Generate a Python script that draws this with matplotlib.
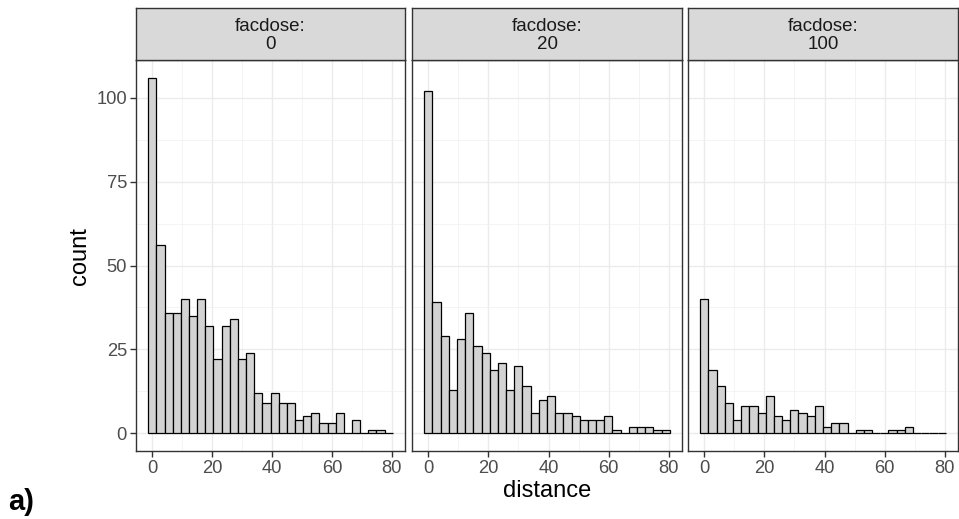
import numpy as np
import matplotlib.pyplot as plt

plt.rcParams['font.family'] = ['Liberation Sans', 'DejaVu Sans']

# histogram counts per facet (30 bins, shared across panels)
doses = ['0', '20', '100']
counts_0 = [106, 56, 36, 36, 40, 35, 40, 32, 22, 32, 34, 22, 24, 12, 9,
            12, 9, 9, 4, 5, 6, 3, 3, 6, 0, 4, 0, 1, 1, 0]
counts_20 = [102, 39, 29, 13, 28, 36, 26, 24, 19, 21, 13, 20, 14, 6, 10,
             11, 6, 6, 5, 4, 4, 4, 5, 1, 0, 2, 2, 2, 1, 1]
counts_100 = [40, 19, 14, 9, 4, 8, 8, 6, 11, 5, 4, 7, 6, 5, 8,
              2, 3, 3, 0, 1, 1, 0, 0, 1, 1, 2, 0, 0, 0, 0]
all_counts = [counts_0, counts_20, counts_100]

dist_min, dist_max = 0.0, 79.0
nbins = 30

binw = (dist_max - dist_min) / (nbins - 1)
edges = dist_min - binw / 2 + binw * np.arange(nbins)

W, H = 959, 519
fig = plt.figure(figsize=(W / 100, H / 100), dpi=100)

panel_x = [(136, 405), (412, 682), (688, 958)]
p_top, p_bot, s_top = 60, 451, 8
dark = '#333333'
grey_txt = '#4D4D4D'

for i, (x0, x1) in enumerate(panel_x):
    ax = fig.add_axes([x0 / W, 1 - p_bot / H, (x1 - x0) / W, (p_bot - p_top) / H])
    ax.set_axisbelow(True)
    ax.bar(edges, all_counts[i], width=binw, align='edge',
           color='#D3D3D3', edgecolor='black', linewidth=0.9)
    lo = edges[0]
    hi = edges[-1] + binw
    pad = 0.05 * (hi - lo)
    ax.set_xlim(lo - pad, hi + pad)
    ax.set_ylim(-0.05 * 106, 106 * 1.05)
    ax.set_xticks([0, 20, 40, 60, 80])
    ax.set_xticks([10, 30, 50, 70], minor=True)
    ax.set_yticks([0, 25, 50, 75, 100])
    ax.set_yticks([12.5, 37.5, 62.5, 87.5], minor=True)
    ax.grid(which='major', color='#EBEBEB', linewidth=1.0)
    ax.grid(which='minor', color='#F2F2F2', linewidth=0.6)
    for sp in ax.spines.values():
        sp.set_color(dark)
        sp.set_linewidth(1.0)
    ax.tick_params(which='major', direction='out', length=4, width=1,
                   color=dark, labelcolor=grey_txt, labelsize=13.2, pad=2.5)
    ax.tick_params(which='minor', length=0)
    if i > 0:
        ax.tick_params(axis='y', which='both', left=False, labelleft=False)

    sax = fig.add_axes([x0 / W, 1 - p_top / H, (x1 - x0) / W, (p_top - s_top) / H])
    sax.set_facecolor('#D9D9D9')
    sax.set_xticks([])
    sax.set_yticks([])
    for sp in sax.spines.values():
        sp.set_color(dark)
        sp.set_linewidth(1.0)
    sax.text(0.5, 0.47, 'facdose:\n' + doses[i], ha='center', va='center',
             fontsize=13.5, color='#1A1A1A', linespacing=1.08,
             transform=sax.transAxes)

fig.text(547 / W, 1 - 491 / H, 'distance', ha='center', va='center', fontsize=17)
fig.text(80 / W, 1 - 256 / H, 'count', ha='center', va='center',
         rotation=90, fontsize=17)
fig.text(8 / W, 1 - 502 / H, 'a)', ha='left', va='center', fontsize=21,
         fontweight='bold')

fig.savefig('out.png', dpi=100)
